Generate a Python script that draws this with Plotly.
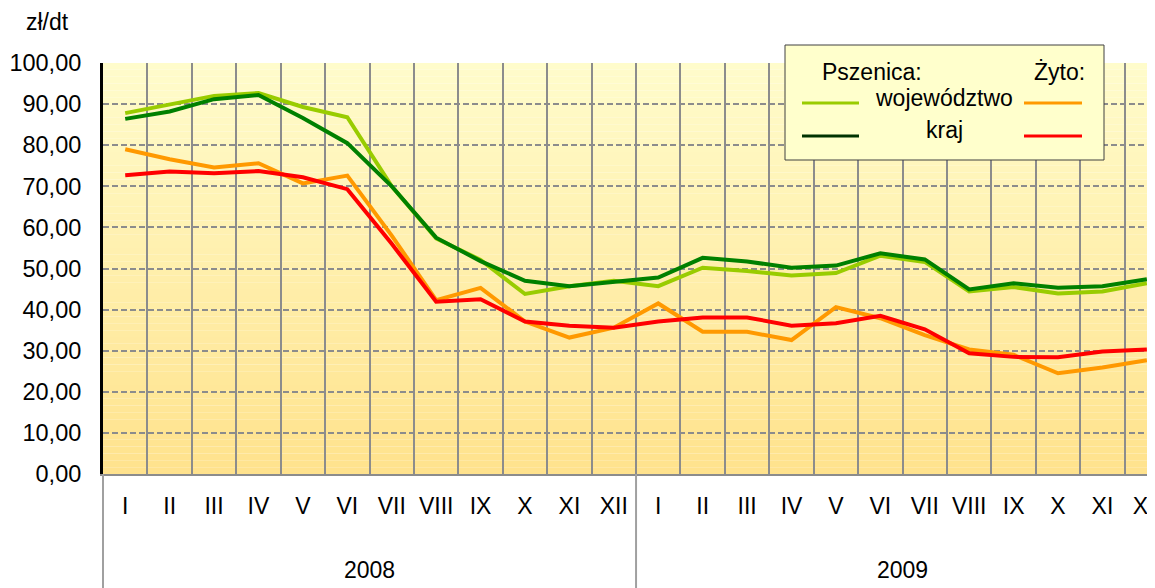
import plotly.graph_objects as go

# ---------------- data ----------------
years = ["2008", "2009"]
months = ["I", "II", "III", "IV", "V", "VI", "VII", "VIII", "IX", "X", "XI", "XII"]

pszenica_woj = [87.8, 89.8, 92.0, 92.7, 89.3, 86.8, 70.0, 57.3, 52.1, 43.8, 45.7, 47.0,
                45.7, 50.2, 49.4, 48.3, 48.9, 53.1, 51.6, 44.4, 45.5, 43.9, 44.4, 46.4]
pszenica_kraj = [86.4, 88.2, 91.2, 92.2, 86.6, 80.5, 70.0, 57.5, 51.8, 47.0, 45.7, 46.8,
                 47.8, 52.6, 51.7, 50.2, 50.7, 53.7, 52.2, 44.9, 46.4, 45.3, 45.7, 47.4]
zyto_woj = [79.0, 76.6, 74.6, 75.6, 70.7, 72.6, 58.0, 42.3, 45.3, 37.1, 33.2, 35.6,
            41.5, 34.6, 34.6, 32.6, 40.6, 37.9, 33.8, 30.3, 29.0, 24.5, 25.9, 27.7]
zyto_kraj = [72.7, 73.6, 73.2, 73.7, 72.2, 69.3, 56.0, 41.9, 42.5, 37.1, 36.1, 35.6,
             37.1, 38.1, 38.1, 36.1, 36.7, 38.5, 35.2, 29.4, 28.5, 28.4, 29.8, 30.3]

unit_label = "zł/dt"
legend_groups = ["Pszenica:", "Żyto:"]
legend_rows = ["województwo", "kraj"]

# ---------------- layout constants ----------------
OFF = 8                      # default page (body) margin of the browser
VIEW_W, VIEW_H = 1155, 588
PL, PT, PB = 103, 63, 474    # plot area edges in page pixels
CAT_PX = 44.42
W = VIEW_W + OFF             # plot runs on past the right edge of the window
H = VIEW_H - OFF
ML, MT, MR = PL - OFF, PT - OFF, 0
MB = H - (PB - OFF)
PW, PH = W - ML - MR, H - MT - MB
FONT = "Liberation Sans, Arial, sans-serif"

n = len(years) * len(months)
xs = list(range(n))
ticktext = months * len(years)
x0r, x1r = -0.5, -0.5 + PW / CAT_PX


def pxx(p):
    return (p - PL) / PW


def pxy(p):
    return (PB - p) / PH


def dx2paper(v):
    return (v - x0r) / (x1r - x0r)


series = [
    (pszenica_woj, "#99CC00"),
    (pszenica_kraj, "#008000"),
    (zyto_woj, "#FF9900"),
    (zyto_kraj, "#FF0000"),
]

fig = go.Figure()
for vals, col in series:
    fig.add_trace(go.Scatter(x=xs, y=vals, mode="lines",
                             line=dict(color=col, width=4),
                             showlegend=False, hoverinfo="skip"))

shapes = []
# gradient background of plot area
top = (255, 252, 204)
bot = (255, 226, 140)
NB = 60
for i in range(NB):
    t = (i + 0.5) / NB
    c = tuple(round(top[k] + (bot[k] - top[k]) * t) for k in range(3))
    shapes.append(dict(type="rect", xref="paper", yref="paper",
                       x0=0, x1=1, y0=1 - (i + 1) / NB, y1=1 - i / NB,
                       fillcolor="rgb(%d,%d,%d)" % c, line=dict(width=0),
                       layer="below"))

# year dividers below the axis
for j in range(len(years) + 1):
    b = j * len(months) - 0.5
    xp = dx2paper(b)
    if xp <= 1:
        shapes.append(dict(type="line", xref="paper", yref="paper",
                           x0=xp, x1=xp, y0=0, y1=-MB / PH,
                           line=dict(color="#A0A0A0", width=2)))

# custom legend box
shapes.append(dict(type="rect", xref="paper", yref="paper",
                   x0=pxx(785), x1=pxx(1104), y0=pxy(160), y1=pxy(45),
                   fillcolor="#FFFFCC", line=dict(color="#404040", width=1)))
leg_lines = [
    (802, 859, 103, "#99CC00"),
    (1024, 1082, 103, "#FF9900"),
    (802, 859, 136, "#003300"),
    (1024, 1082, 136, "#FF0000"),
]
for a, b, yy, col in leg_lines:
    shapes.append(dict(type="line", xref="paper", yref="paper",
                       x0=pxx(a), x1=pxx(b), y0=pxy(yy), y1=pxy(yy),
                       line=dict(color=col, width=3)))

annotations = []
for j, yr in enumerate(years):
    idx = xs[j * len(months):(j + 1) * len(months)]
    annotations.append(dict(x=sum(idx) / len(idx), y=0, xref="x", yref="paper",
                            text=yr, showarrow=False, yanchor="middle",
                            yshift=-96, font=dict(size=23, color="black", family=FONT)))

annotations.append(dict(x=pxx(24), y=pxy(22), xref="paper", yref="paper",
                        text=unit_label, showarrow=False, xanchor="left",
                        yanchor="middle", font=dict(size=23, color="black", family=FONT)))
annotations.append(dict(x=pxx(820), y=pxy(72), xref="paper", yref="paper",
                        text=legend_groups[0], showarrow=False, xanchor="left",
                        yanchor="middle", font=dict(size=23, color="black", family=FONT)))
annotations.append(dict(x=pxx(1087), y=pxy(72), xref="paper", yref="paper",
                        text=legend_groups[1], showarrow=False, xanchor="right",
                        yanchor="middle", font=dict(size=23, color="black", family=FONT)))
annotations.append(dict(x=pxx(944), y=pxy(98), xref="paper", yref="paper",
                        text=legend_rows[0], showarrow=False, xanchor="center",
                        yanchor="middle", font=dict(size=23, color="black", family=FONT)))
annotations.append(dict(x=pxx(944), y=pxy(130), xref="paper", yref="paper",
                        text=legend_rows[1], showarrow=False, xanchor="center",
                        yanchor="middle", font=dict(size=23, color="black", family=FONT)))

fig.update_layout(
    width=W, height=H,
    margin=dict(l=ML, r=MR, t=MT, b=MB, pad=0),
    paper_bgcolor="white",
    plot_bgcolor="rgba(0,0,0,0)",
    separators=", ",
    font=dict(family=FONT, color="black", size=22),
    showlegend=False,
    shapes=shapes,
    annotations=annotations,
    xaxis=dict(
        range=[x0r, x1r],
        tickmode="array", tickvals=xs, ticktext=ticktext,
        showgrid=False, zeroline=False, ticks="",
        showline=True, linecolor="#8C8C8C", linewidth=2,
        tickfont=dict(size=23, color="black", family=FONT),
        ticklabelstandoff=10,
        minor=dict(tickmode="array",
                   tickvals=[i - 0.5 for i in range(n + 1)],
                   showgrid=True, gridcolor="#8C8C8C", gridwidth=2, ticks=""),
    ),
    yaxis=dict(
        range=[0, 100], tick0=0, dtick=10, tickformat=".2f",
        showgrid=True, gridcolor="#8C8C8C", gridwidth=2, griddash="6px,3px",
        zeroline=False, ticks="",
        showline=True, linecolor="black", linewidth=3,
        tickfont=dict(size=23.5, color="black", family=FONT),
        ticklabelstandoff=14,
    ),
)

fig.write_html("out.html")
